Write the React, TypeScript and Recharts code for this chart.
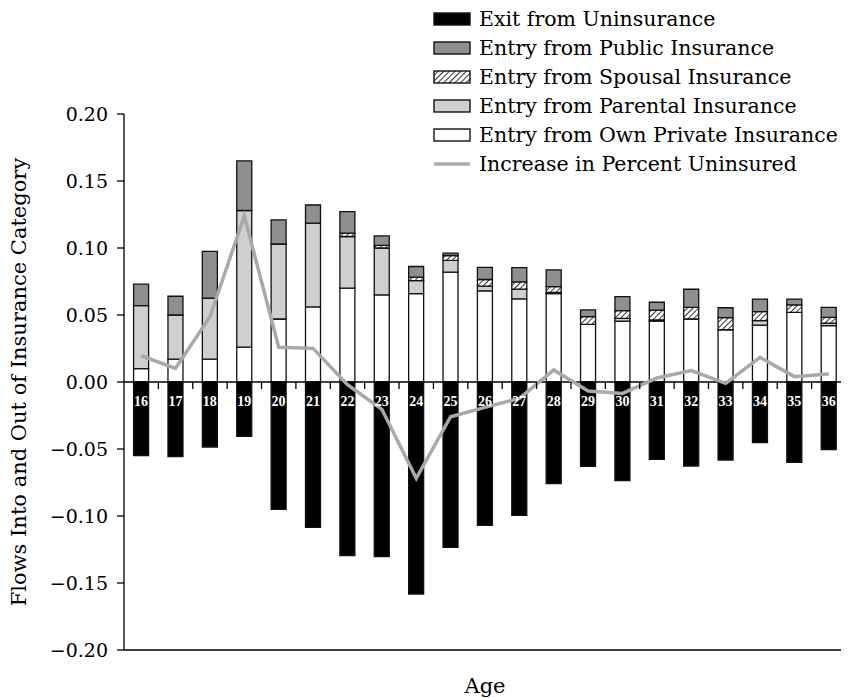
import { Bar, ComposedChart, Label, LabelList, Legend, Line, ReferenceLine, Scatter, XAxis, YAxis } from "recharts";

// Age of the respondent (one stacked bar per year of age)
const ages = [16, 17, 18, 19, 20, 21, 22, 23, 24, 25, 26, 27, 28, 29, 30, 31, 32, 33, 34, 35, 36];

// Inflows into uninsurance, by insurance category left
const ownPrivate = [0.010, 0.017, 0.017, 0.026, 0.047, 0.056, 0.070, 0.065, 0.066, 0.082, 0.068, 0.062, 0.066, 0.043, 0.0455, 0.0455, 0.047, 0.039, 0.0425, 0.052, 0.042];
const parental = [0.047, 0.033, 0.0455, 0.102, 0.056, 0.0625, 0.0386, 0.035, 0.0097, 0.0087, 0.0035, 0.0073, 0.0008, 0, 0.002, 0.0008, 0, 0, 0.0033, 0, 0.002];
const spousal = [0, 0, 0, 0, 0, 0, 0.0025, 0.002, 0.0025, 0.0037, 0.005, 0.0054, 0.0044, 0.0058, 0.0057, 0.0074, 0.0087, 0.009, 0.0067, 0.0055, 0.0042];
const publicIns = [0.016, 0.014, 0.035, 0.037, 0.018, 0.0136, 0.016, 0.007, 0.008, 0.0018, 0.009, 0.0107, 0.0125, 0.005, 0.0105, 0.0058, 0.0135, 0.0074, 0.0094, 0.0044, 0.0075];

// Outflows (negative) and the net change
const exitUninsured = [-0.055, -0.0557, -0.0485, -0.0405, -0.095, -0.1085, -0.1296, -0.1303, -0.1582, -0.1234, -0.107, -0.0995, -0.0759, -0.0629, -0.0736, -0.0577, -0.0627, -0.0582, -0.0453, -0.0599, -0.0505];
const increaseUninsured = [0.0196, 0.0102, 0.0487, 0.1239, 0.0259, 0.0251, -0.002, -0.0204, -0.0719, -0.0259, -0.0189, -0.0122, 0.009, -0.0067, -0.0085, 0.003, 0.0085, -0.001, 0.0184, 0.004, 0.006];

const yTicks = [-0.2, -0.15, -0.1, -0.05, 0, 0.05, 0.1, 0.15, 0.2];

const chartData = ages.map((age, i) => ({
  age,
  ownPrivate: ownPrivate[i],
  parental: parental[i],
  spousal: spousal[i],
  publicIns: publicIns[i],
  exit: exitUninsured[i],
  increase: increaseUninsured[i],
}));

// x extent of the age axis, and the small tick marks between neighbouring ages
const ageDomain = [ages[0] - 0.5, ages[ages.length - 1] + 0.5];
const boundaryTicks = ages.slice(0, -1).map((a) => ({ age: a + 0.5, zero: 0 }));

const FONT = '"DejaVu Serif", serif';
const OUTLINE = "#111";
const HATCH = "url(#spousalHatch)";

const legendItems = [
  { label: "Exit from Uninsurance", fill: "#000", line: false },
  { label: "Entry from Public Insurance", fill: "#8f8f8f", line: false },
  { label: "Entry from Spousal Insurance", fill: HATCH, line: false },
  { label: "Entry from Parental Insurance", fill: "#cfcfcf", line: false },
  { label: "Entry from Own Private Insurance", fill: "#fff", line: false },
  { label: "Increase in Percent Uninsured", fill: "#a9a9a9", line: true },
];

function formatTick(v: number) {
  const s = Math.abs(v).toFixed(2);
  return v < 0 ? `\u2212${s}` : s;
}

function LegendBox() {
  return (
    <div style={{ fontFamily: FONT, fontSize: 20.5, color: "#000" }}>
      {legendItems.map((item) => (
        <div key={item.label} style={{ display: "flex", alignItems: "center", height: 29, whiteSpace: "nowrap" }}>
          <svg width={38} height={14} style={{ marginRight: 8 }}>
            {item.line ? (
              <line x1={1} y1={7} x2={37} y2={7} stroke={item.fill} strokeWidth={3.5} />
            ) : (
              <rect x={1} y={1} width={36} height={12} fill={item.fill} stroke={OUTLINE} strokeWidth={1.4} />
            )}
          </svg>
          <span>{item.label}</span>
        </div>
      ))}
    </div>
  );
}

function YTitle(props: any) {
  const { viewBox } = props;
  const x = viewBox.x + 10.5;
  const y = viewBox.y + viewBox.height / 2;
  return (
    <text x={x} y={y} transform={`rotate(-90, ${x}, ${y})`} textAnchor="middle" dominantBaseline="central" fontFamily={FONT} fontSize={21} fill="#000">
      Flows Into and Out of Insurance Category
    </text>
  );
}

function XTitle(props: any) {
  const { viewBox } = props;
  return (
    <text x={viewBox.x + viewBox.width / 2} y={viewBox.y + 43} textAnchor="middle" fontFamily={FONT} fontSize={21} fill="#000">
      Age
    </text>
  );
}

// short downward tick hanging from the zero line
function BoundaryTick(props: any) {
  const { cx, cy } = props;
  return <line x1={cx} y1={cy} x2={cx} y2={cy + 7} stroke="#000" strokeWidth={1.3} />;
}

export default function App() {
  return (
    <div style={{ position: "relative", width: 841, height: 690 }}>
      <svg width={0} height={0} style={{ position: "absolute" }}>
        <defs>
          <pattern id="spousalHatch" patternUnits="userSpaceOnUse" width={4} height={4} patternTransform="rotate(45)">
            <rect width={4} height={4} fill="#fff" />
            <line x1={0} y1={0} x2={0} y2={4} stroke="#000" strokeWidth={1.6} />
          </pattern>
        </defs>
      </svg>
      <ComposedChart width={841} height={690} data={chartData} stackOffset="sign" margin={{ top: 106, right: 3, bottom: 0, left: 0 }}>
        <XAxis type="number" dataKey="age" domain={ageDomain} tick={false} tickLine={false} axisLine={{ stroke: "#000", strokeWidth: 1.3 }} height={48}>
          <Label content={XTitle} />
        </XAxis>
        <YAxis
          type="number"
          domain={[-0.2, 0.2]}
          ticks={yTicks}
          tickFormatter={formatTick}
          interval={0}
          width={116}
          tick={{ fill: "#000", fontSize: 19, fontFamily: FONT }}
          tickSize={7}
          tickMargin={9}
          tickLine={{ stroke: "#000", strokeWidth: 1.3 }}
          axisLine={{ stroke: "#000", strokeWidth: 1.3 }}
        >
          <Label content={YTitle} />
        </YAxis>
        <Legend layout="horizontal" verticalAlign="middle" align="center" wrapperStyle={{ top: -4, left: 425, width: 424 }} content={() => <LegendBox />} />
        <Bar dataKey="ownPrivate" stackId="flows" fill="#fff" stroke={OUTLINE} strokeWidth={1.3} barSize={15} isAnimationActive={false} />
        <Bar dataKey="parental" stackId="flows" fill="#cfcfcf" stroke={OUTLINE} strokeWidth={1.3} barSize={15} isAnimationActive={false} />
        <Bar dataKey="spousal" stackId="flows" fill={HATCH} stroke={OUTLINE} strokeWidth={1.3} barSize={15} isAnimationActive={false} />
        <Bar dataKey="publicIns" stackId="flows" fill="#8f8f8f" stroke={OUTLINE} strokeWidth={1.3} barSize={15} isAnimationActive={false} />
        <Bar dataKey="exit" stackId="flows" fill="#000" stroke={OUTLINE} strokeWidth={1.3} barSize={15} isAnimationActive={false}>
          <LabelList dataKey="age" position="insideBottom" offset={14} fill="#fff" fontSize={14} fontWeight="bold" fontFamily='"Liberation Serif", serif' />
        </Bar>
        {/* zero line across the plot, with ticks between the ages */}
        <ReferenceLine y={0} stroke="#000" strokeWidth={1.6} />
        <Scatter data={boundaryTicks} dataKey="zero" shape={BoundaryTick} isAnimationActive={false} />
        <Line dataKey="increase" stroke="#a9a9a9" strokeWidth={3.5} dot={false} activeDot={false} isAnimationActive={false} />
      </ComposedChart>
    </div>
  );
}
